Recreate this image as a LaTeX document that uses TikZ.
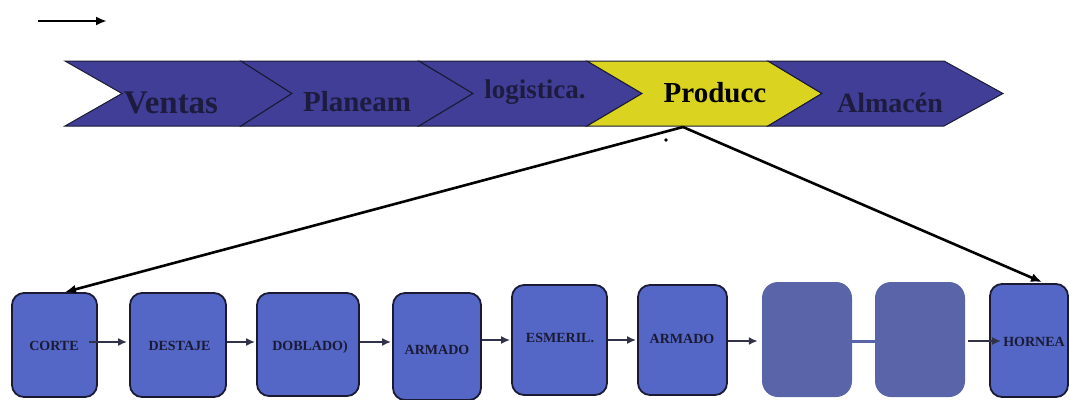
\documentclass[tikz,border=0pt]{standalone}
\usepackage{fontspec}
\setmainfont{Liberation Serif}
\usetikzlibrary{arrows.meta,calc}

\definecolor{bandblue}{RGB}{64,62,150}
\definecolor{prodyellow}{RGB}{218,211,32}
\definecolor{boxblue}{RGB}{84,103,198}
\definecolor{blankblue}{RGB}{90,100,168}
\definecolor{inkdark}{RGB}{26,26,52}
\definecolor{bandtext}{RGB}{30,28,62}

\tikzset{
  chev/.style={draw=inkdark, line width=1pt, line join=miter},
  bandlbl/.style={inner sep=0pt, anchor=base, text=bandtext},
  procbox/.style={draw=inkdark, line width=1.8pt, fill=boxblue, rounded corners=12pt,
                  inner sep=0pt},
  blankbox/.style={fill=blankblue, rounded corners=16pt, inner sep=0pt},
  boxlbl/.style={inner sep=0pt, anchor=base, text=inkdark,
                 font=\fontsize{14}{14}\selectfont\bfseries},
  flow/.style={draw=inkdark!90, line width=2pt, -{Latex[length=9pt,width=8pt]}},
  feed/.style={draw=black, line width=2.6pt, -{Latex[length=11pt,width=9pt]}},
}

\begin{document}
\begin{tikzpicture}[x=1pt,y=-1pt]
\useasboundingbox (0,0) rectangle (1070,399);

% legend arrow
\coordinate (legA) at (38,21);
\coordinate (legB) at (107,21);
\draw[feed] (legA) -- (legB);

% value chain band: left edge / right edge / tip / notch
\foreach \L/\R/\T/\N/\c in {65/241/292/122/bandblue,
                            241/419/473/292/bandblue,
                            419/587/642/473/bandblue,
                            587/768/822/642/prodyellow,
                            768/944/1003/822/bandblue}{
  \filldraw[chev, fill=\c] (\L,61) -- (\R,61) -- (\T,93.5) -- (\R,126)
      -- (\L,126) -- (\N,93.5) -- cycle;
}

\node[bandlbl, font=\fontsize{33}{33}\selectfont\bfseries] (ventas) at (171,113) {Ventas};
\node[bandlbl, font=\fontsize{29}{29}\selectfont\bfseries] (planeam) at (357,111) {Planeam};
\node[bandlbl, font=\fontsize{27}{27}\selectfont\bfseries] (logis) at (535,98) {logistica.};
\node[bandlbl, font=\fontsize{29}{29}\selectfont\bfseries, text=black] (producc) at (715,102) {Producc};
\node[bandlbl, font=\fontsize{28}{28}\selectfont\bfseries] (almacen) at (890,112) {Almacén};

\coordinate (prodfoot) at (683,127);
\fill (666,140) circle (1.8);

% process boxes
\node[procbox, minimum width=85pt,  minimum height=104pt] (corte)   at (54.5,345)   {};
\node[procbox, minimum width=96pt,  minimum height=104pt] (destaje) at (178,345)    {};
\node[procbox, minimum width=102pt, minimum height=103pt] (doblado) at (308,344.5)  {};
\node[procbox, minimum width=88pt,  minimum height=107pt] (armado)  at (437,346.5)  {};
\node[procbox, minimum width=95pt,  minimum height=110pt] (esmeril) at (559.5,340)  {};
\node[procbox, minimum width=89pt,  minimum height=110pt] (armadob) at (682.5,340)  {};
\node[blankbox, minimum width=90pt, minimum height=115pt] (blanka)  at (807,339.5)  {};
\node[blankbox, minimum width=90pt, minimum height=115pt] (blankb)  at (920,339.5)  {};
\node[procbox, minimum width=78pt,  minimum height=113pt] (hornea)  at (1029,340.5) {};

\node[boxlbl] (corte-t)   at (54,350)   {CORTE};
\node[boxlbl] (destaje-t) at (179.5,350) {DESTAJE};
\node[boxlbl] (doblado-t) at (310,350)  {DOBLADO)};
\node[boxlbl] (armado-t)  at (437,354)  {ARMADO};
\node[boxlbl] (esmeril-t) at (560,342)  {ESMERIL.};
\node[boxlbl] (armadob-t) at (682,343)  {ARMADO};
\node[boxlbl] (hornea-t)  at (1034,346) {HORNEA};

% feeds from production
\draw[feed] (prodfoot) -- ($(corte.north)+(10.5,0)$);
\draw[feed] (prodfoot) -- ($(hornea.north)+(13,-1)$);

% flow between stations
\draw[flow] ($(corte.east)+(-9,-3)$)   -- ($(destaje.west)+(-2,-3)$);
\draw[flow] ($(destaje.east)+(0,-3)$)  -- ($(doblado.west)+(-1,-2.5)$);
\draw[flow] ($(doblado.east)+(0,-2.5)$) -- ($(armado.west)+(-1,-4.5)$);
\draw[flow] ($(armado.east)+(0,-6.5)$) -- ($(esmeril.west)+(-1,0)$);
\draw[flow] (esmeril.east)             -- ($(armadob.west)+(-1,0)$);
\draw[flow] ($(armadob.east)+(0,1)$)   -- ($(blanka.west)+(-4,1.5)$);
\draw[blankblue, line width=3pt] ($(blanka.east)+(-2,1.5)$) -- ($(blankb.west)+(2,1.5)$);
\draw[flow] ($(blankb.east)+(3,1.5)$)  -- ($(hornea.west)+(12,0.5)$);
\end{tikzpicture}
\end{document}
